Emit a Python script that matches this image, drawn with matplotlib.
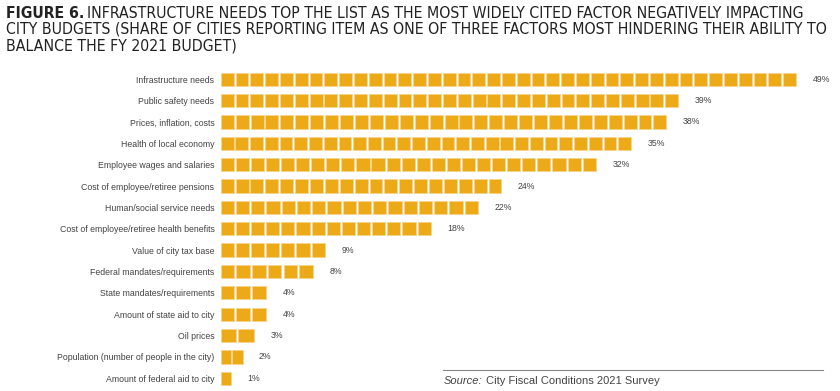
import matplotlib.pyplot as plt
from matplotlib.patches import Rectangle

categories = [
    "Infrastructure needs",
    "Public safety needs",
    "Prices, inflation, costs",
    "Health of local economy",
    "Employee wages and salaries",
    "Cost of employee/retiree pensions",
    "Human/social service needs",
    "Cost of employee/retiree health benefits",
    "Value of city tax base",
    "Federal mandates/requirements",
    "State mandates/requirements",
    "Amount of state aid to city",
    "Oil prices",
    "Population (number of people in the city)",
    "Amount of federal aid to city",
]
values = [49, 39, 38, 35, 32, 24, 22, 18, 9, 8, 4, 4, 3, 2, 1]
value_labels = [f"{v}%" for v in values]

gold = "#ECA918"
text_gray = "#444444"

fig = plt.figure(figsize=(8.4, 3.91), dpi=100)
ax = fig.add_axes([220 / 840, 1 - 389 / 391, 620 / 840, 320.5 / 391])

# each bar is drawn as a row of little squares
unit = 1.27
for i, v in enumerate(values):
    n = max(1, round(v / unit))
    w = v / n
    for k in range(n):
        ax.add_patch(Rectangle((k * w + 0.06, i - 0.31), w * 0.87, 0.62,
                               facecolor=gold, edgecolor="#F5D488", linewidth=0.5))
    ax.text(v + 1.3, i, value_labels[i], va="center", ha="left",
            fontsize=6.3, color=text_gray, family="Liberation Sans")

ax.set_xlim(0, 620 / 11.78)
ax.set_ylim(len(values) - 0.5, -0.5)
ax.set_yticks(range(len(categories)))
ax.set_yticklabels(categories, fontsize=6.3, color=text_gray, family="Liberation Sans")
ax.tick_params(axis="y", length=0, pad=4)
ax.set_xticks([])
for s in ax.spines.values():
    s.set_visible(False)

# title
title_lines = [
    "INFRASTRUCTURE NEEDS TOP THE LIST AS THE MOST WIDELY CITED FACTOR NEGATIVELY IMPACTING",
    "CITY BUDGETS (SHARE OF CITIES REPORTING ITEM AS ONE OF THREE FACTORS MOST HINDERING THEIR ABILITY TO",
    "BALANCE THE FY 2021 BUDGET)",
]
tfont = dict(family="DejaVu Sans", fontstretch="condensed", color="#222222", va="center")

# size the title so the long second line fits like in the original
probe = fig.text(0, 0, title_lines[1], fontsize=10, **tfont)
fig.canvas.draw()
tsize = 10 * 822 / probe.get_window_extent().width
probe.remove()

t0 = fig.text(6 / 840, 1 - 13 / 391, "FIGURE 6.", fontweight="bold", fontsize=tsize, **tfont)
fig.canvas.draw()
bb = t0.get_window_extent()
fig.text((bb.x1 + 3) / 840, 1 - 13 / 391, title_lines[0], fontsize=tsize, **tfont)
fig.text(6 / 840, 1 - 29.5 / 391, title_lines[1], fontsize=tsize, **tfont)
fig.text(6 / 840, 1 - 46 / 391, title_lines[2], fontsize=tsize, **tfont)

# source note
fig.add_artist(plt.Line2D([443 / 840, 823 / 840], [1 - 370 / 391, 1 - 370 / 391],
                          color="#888888", linewidth=0.8))
s0 = fig.text(444 / 840, 1 - 381 / 391, "Source:", fontstyle="italic",
              fontsize=8, color="#444444", va="center", family="Liberation Sans")
fig.canvas.draw()
bb = s0.get_window_extent()
fig.text((bb.x1 + 3) / 840, 1 - 381 / 391, "City Fiscal Conditions 2021 Survey",
         fontsize=8, color="#444444", va="center", family="Liberation Sans")

fig.savefig("out.png", dpi=100)
